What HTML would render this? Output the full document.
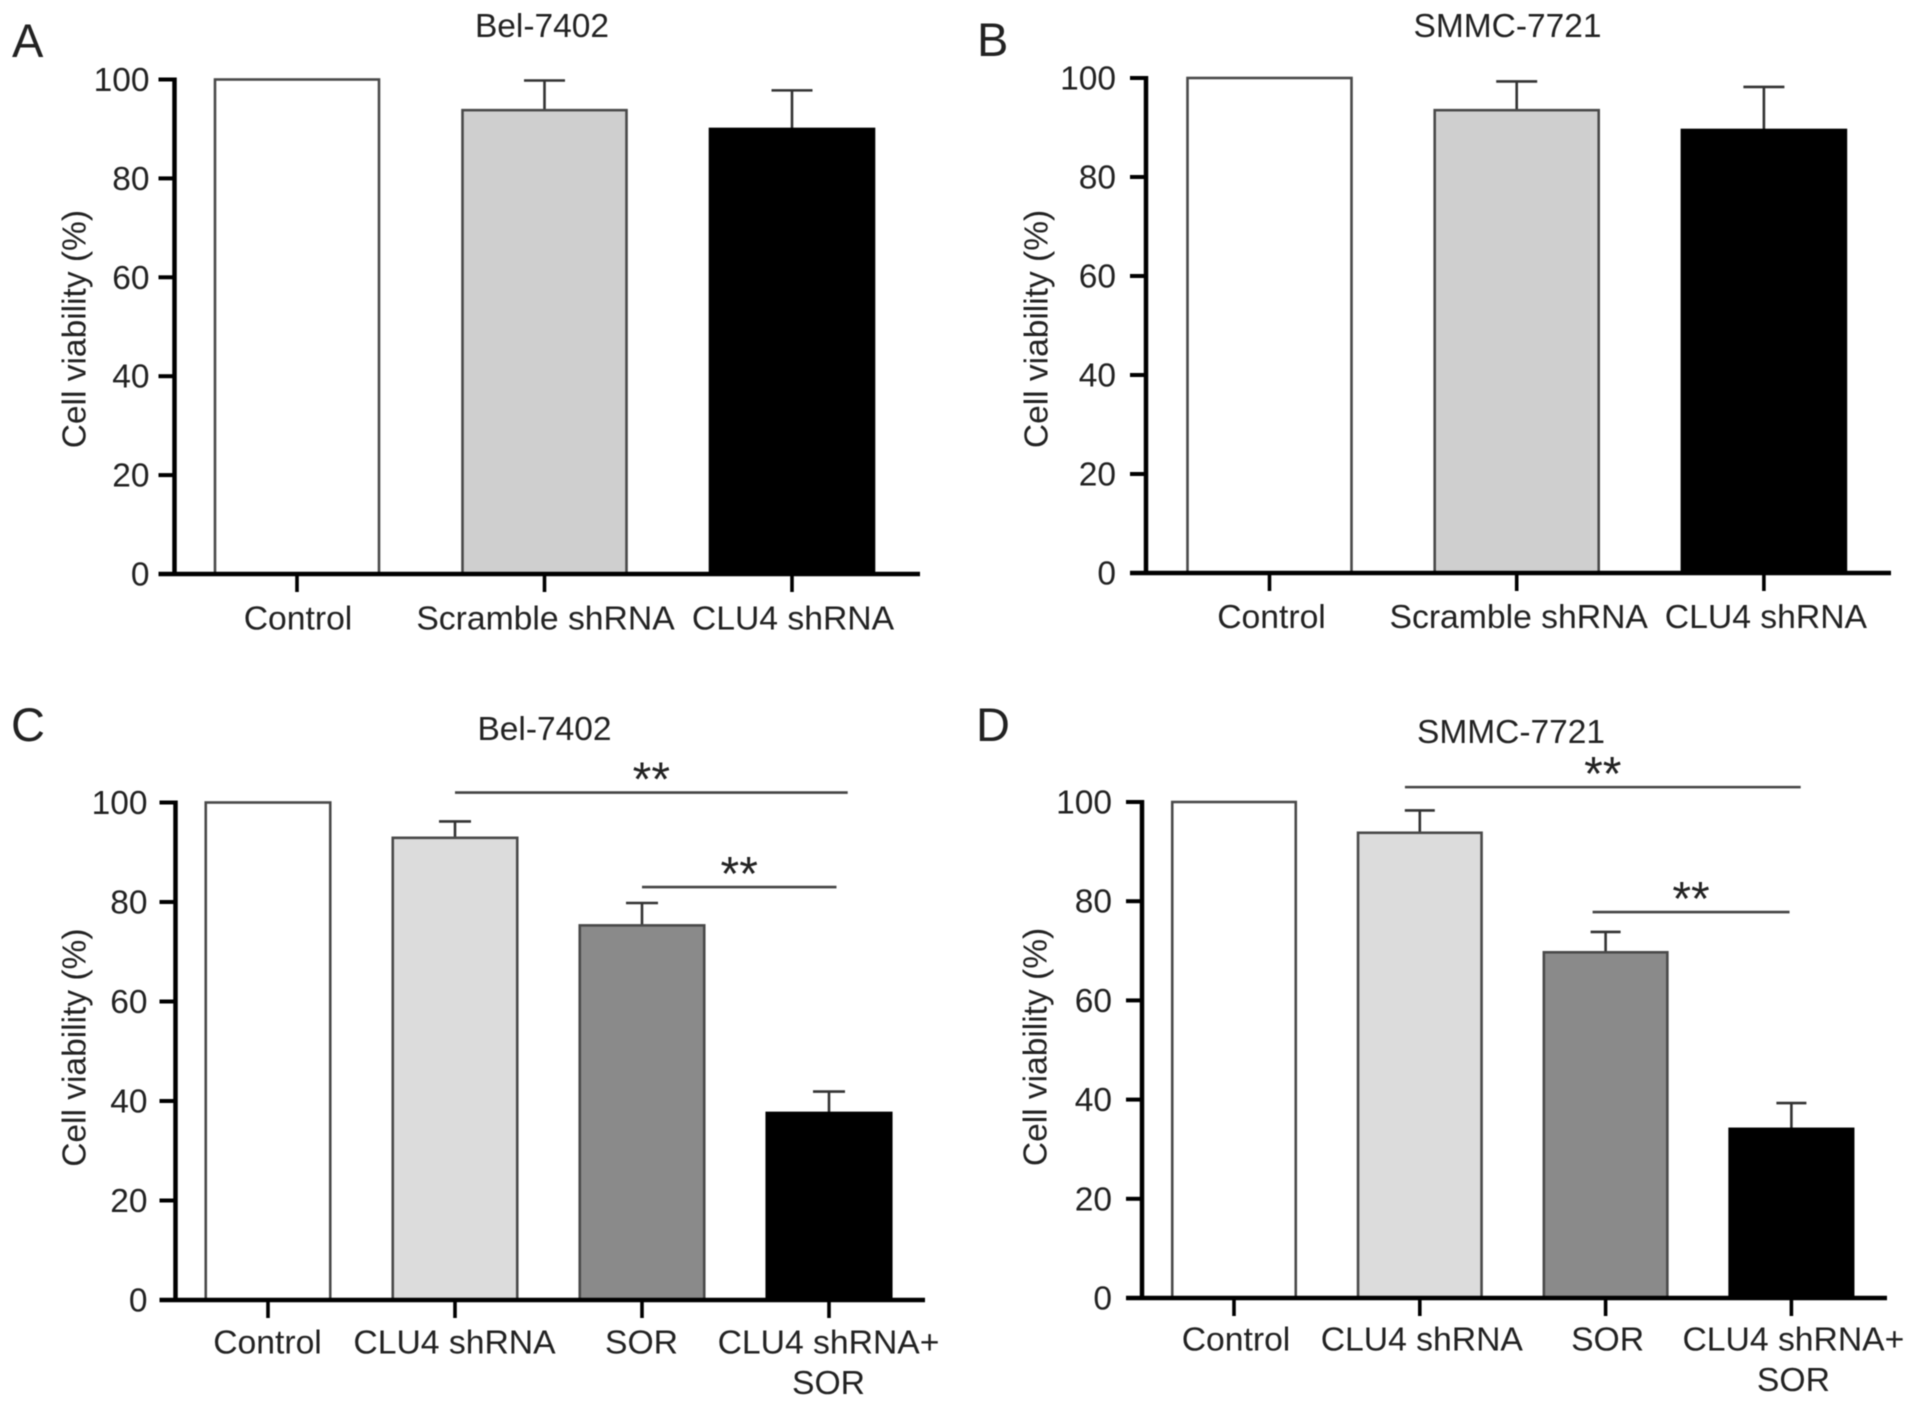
<!DOCTYPE html>
<html lang="en">
<head>
<meta charset="utf-8">
<title>Cell viability bar charts</title>
<style>
html,body{margin:0;padding:0;background:#fff;}
#figure{display:block;width:1913px;height:1408px;filter:blur(0.6px);}
text{font-family:"Liberation Sans",Arial,sans-serif;fill:#222;}
</style>
</head>
<body>
<svg id="figure" xmlns="http://www.w3.org/2000/svg" width="1913" height="1408" viewBox="0 0 1913 1408"></svg>
<script>
// Shared axis ticks
const yTickValues = [0, 20, 40, 60, 80, 100];
const yAxisLabel = 'Cell viability (%)';

// Panel A data
const categoriesA = ['Control', 'Scramble shRNA', 'CLU4 shRNA'];
const valuesA = [100, 93.8, 90];
const errorsA = [0, 6.0, 7.8];
const coloursA = ['#ffffff', '#cfcfcf', '#000000'];

// Panel B data
const categoriesB = ['Control', 'Scramble shRNA', 'CLU4 shRNA'];
const valuesB = [100, 93.5, 89.5];
const errorsB = [0, 5.8, 8.7];
const coloursB = ['#ffffff', '#cfcfcf', '#000000'];

// Panel C data
const categoriesC = ['Control', 'CLU4 shRNA', 'SOR', 'CLU4 shRNA+|SOR'];
const valuesC = [100, 92.9, 75.3, 37.6];
const errorsC = [0, 3.3, 4.5, 4.3];
const coloursC = ['#ffffff', '#dcdcdc', '#8a8a8a', '#000000'];
const bracketFromC = [1, 2];
const bracketToC = [3.1, 3.04];
const bracketLevelC = [102, 83];

// Panel D data
const categoriesD = ['Control', 'CLU4 shRNA', 'SOR', 'CLU4 shRNA+|SOR'];
const valuesD = [100, 93.8, 69.7, 34.1];
const errorsD = [0, 4.5, 4.1, 5.2];
const coloursD = ['#ffffff', '#dcdcdc', '#8a8a8a', '#000000'];
const bracketFromD = [0.92, 1.93];
const bracketToD = [3.05, 2.99];
const bracketLevelD = [103, 77.8];

const NS = 'http://www.w3.org/2000/svg';
const figure = document.getElementById('figure');

function make(tag, parent) {
  const el = document.createElementNS(NS, tag);
  parent.appendChild(el);
  return el;
}

function drawLine(parent, x1, y1, x2, y2, width, colour) {
  const el = make('line', parent);
  el.setAttribute('x1', x1);
  el.setAttribute('y1', y1);
  el.setAttribute('x2', x2);
  el.setAttribute('y2', y2);
  el.setAttribute('stroke', colour);
  el.setAttribute('stroke-width', width);
  return el;
}

function drawText(parent, str, x, y, size, anchor) {
  const el = make('text', parent);
  el.setAttribute('x', x);
  el.setAttribute('y', y);
  el.setAttribute('font-size', size);
  el.setAttribute('text-anchor', anchor);
  el.textContent = str;
  return el;
}

function drawPanel(p) {
  const group = make('g', figure);
  
  

  const yScale = function (v) { return p.y0 - v * (p.y0 - p.y100) / 100; };
  const xScale = function (i) { return p.firstCentre + i * p.step; };

  // panel letter and title
  const letter = drawText(group, p.letter, p.letterX, p.letterY, 47, 'start');
  
  
  const title = drawText(group, p.title, p.titleX, p.titleY, 33.5, 'middle');
  
  

  // y axis title
  const yTitle = drawText(group, yAxisLabel, 0, 0, 33.5, 'middle');
  yTitle.setAttribute('transform', 'translate(' + p.yTitleX + ',' + (p.y0 + p.y100) / 2 + ') rotate(-90) translate(' + p.yTitleShift + ',0)');
  
  

  // bars and error bars
  p.values.forEach(function (v, i) {
    const cx = xScale(i);
    if (p.errors[i] > 0) {
      const top = yScale(v + p.errors[i]);
      const stem = drawLine(group, cx, yScale(v), cx, top, 2.6, '#333');
      
      
      const cap = drawLine(group, cx - p.capHalf, top, cx + p.capHalf, top, 2.6, '#333');
      
      
    }
    const bar = make('rect', group);
    bar.setAttribute('x', cx - p.barWidth / 2);
    bar.setAttribute('y', yScale(v));
    bar.setAttribute('width', p.barWidth);
    bar.setAttribute('height', p.y0 - yScale(v));
    bar.setAttribute('fill', p.colours[i]);
    bar.setAttribute('stroke', p.colours[i] === '#000000' ? '#000' : '#4a4a4a');
    bar.setAttribute('stroke-width', 2.6);
    
    
  });

  // axes
  const yAxis = drawLine(group, p.axisX, p.y100 - 2, p.axisX, p.y0 + 2, 4.5, '#000');
  
  
  const xAxis = drawLine(group, p.axisX - 16, p.y0, p.axisEnd, p.y0, 4.5, '#000');
  
  

  // y ticks
  yTickValues.forEach(function (t) {
    const y = yScale(t);
    const tick = drawLine(group, p.axisX - 16, y, p.axisX, y, 4, '#000');
    
    
    const lab = drawText(group, String(t), p.axisX - 28 + p.tickLabelDx, y + 11.5, 33.5, 'end');
    
    
  });

  // x ticks and labels
  p.categories.forEach(function (c, i) {
    const cx = xScale(i);
    const tick = drawLine(group, cx, p.y0, cx, p.y0 + 18, 3.6, '#000');
    
    
    c.split('|').forEach(function (part, line) {
      const lab = drawText(group, part, cx + p.labelDx, p.labelY + line * 40.5, 33.7, 'middle');
      
      
    });
  });

  // significance brackets
  p.bracketFrom.forEach(function (from, k) {
    const x1 = xScale(from);
    const x2 = xScale(p.bracketTo[k]);
    const y = yScale(p.bracketLevel[k]);
    const rule = drawLine(group, x1, y, x2, y, 2.6, '#444');
    
    
    const stars = drawText(group, '**', (x1 + x2) / 2, y + 3, 48, 'middle');
    
    
  });
}

drawPanel({
  id: 'a', letter: 'A', title: 'Bel-7402',
  categories: categoriesA, values: valuesA, errors: errorsA, colours: coloursA,
  bracketFrom: [], bracketTo: [], bracketLevel: [],
  y0: 574, y100: 79.5, axisX: 174.5, axisEnd: 920, firstCentre: 297, step: 247.5,
  barWidth: 164, capHalf: 20.5, labelDx: 1, labelY: 629.5, tickLabelDx: 3,
  letterX: 12, letterY: 57, titleX: 542, titleY: 37, yTitleX: 85.5, yTitleShift: -2.4
});
drawPanel({
  id: 'b', letter: 'B', title: 'SMMC-7721',
  categories: categoriesB, values: valuesB, errors: errorsB, colours: coloursB,
  bracketFrom: [], bracketTo: [], bracketLevel: [],
  y0: 573, y100: 78, axisX: 1146, axisEnd: 1891, firstCentre: 1269.5, step: 247.2,
  barWidth: 164, capHalf: 20.5, labelDx: 2, labelY: 628, tickLabelDx: -2,
  letterX: 977, letterY: 56, titleX: 1507.5, titleY: 37, yTitleX: 1047.5, yTitleShift: -3.5
});
drawPanel({
  id: 'c', letter: 'C', title: 'Bel-7402',
  categories: categoriesC, values: valuesC, errors: errorsC, colours: coloursC,
  bracketFrom: bracketFromC, bracketTo: bracketToC, bracketLevel: bracketLevelC,
  y0: 1300, y100: 802.5, axisX: 175.5, axisEnd: 925, firstCentre: 268, step: 187,
  barWidth: 124.5, capHalf: 16, labelDx: -0.5, labelY: 1353.5, tickLabelDx: 0,
  letterX: 11, letterY: 741, titleX: 544.5, titleY: 740, yTitleX: 85.5, yTitleShift: 3.6
});
drawPanel({
  id: 'd', letter: 'D', title: 'SMMC-7721',
  categories: categoriesD, values: valuesD, errors: errorsD, colours: coloursD,
  bracketFrom: bracketFromD, bracketTo: bracketToD, bracketLevel: bracketLevelD,
  y0: 1298, y100: 802, axisX: 1142, axisEnd: 1887, firstCentre: 1234, step: 185.8,
  barWidth: 123.5, capHalf: 15, labelDx: 2, labelY: 1350.5, tickLabelDx: -2,
  letterX: 976, letterY: 741, titleX: 1511, titleY: 743, yTitleX: 1046.5, yTitleShift: 3
});
</script>
</body>
</html>
